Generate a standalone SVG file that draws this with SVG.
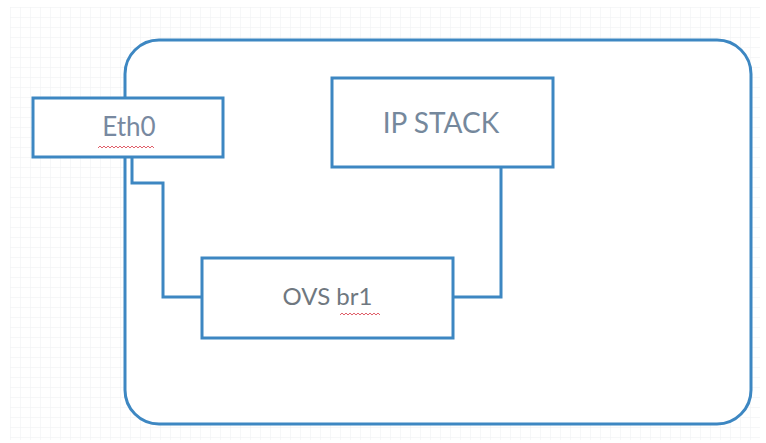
<svg xmlns="http://www.w3.org/2000/svg" width="766" height="443" viewBox="0 0 766 443">
  <defs>
    <pattern id="grid" width="10" height="10" patternUnits="userSpaceOnUse" x="10" y="7">
      <path d="M10 0 L0 0 0 10" fill="none" stroke="#eef0f2" stroke-width="1"/>
    </pattern>
    <style>
      .box { fill: #ffffff; stroke: #3d87c2; stroke-width: 3; }
      .conn { fill: none; stroke: #3d87c2; stroke-width: 3; }
      .lbl { font-family: Lato, "Liberation Sans", sans-serif; font-size: 24px; fill: #6f7880; text-anchor: middle; }
      .squig { fill: none; stroke: #e0606a; stroke-width: 1; }
    </style>
  </defs>
  <rect x="0" y="0" width="766" height="443" fill="#ffffff"/>
  <rect x="10" y="7" width="750" height="433" fill="url(#grid)"/>

  <g id="host">
    <rect class="box" x="125" y="40" width="626" height="384" rx="34" ry="34"/>
  </g>

  <g id="connectors">
    <path class="conn" d="M132 157 L132 183 L163 183 L163 297 L202 297"/>
    <path class="conn" d="M501 167 L501 297 L453 297"/>
  </g>

  <g id="eth0">
    <rect class="box" x="33" y="98" width="190" height="59"/>
    <text class="lbl" x="129" y="136" style="fill:#7889a0;font-size:26px">Eth0</text>
    <path class="squig" d="M98 148 l2 -2 l2 2 l2 -2 l2 2 l2 -2 l2 2 l2 -2 l2 2 l2 -2 l2 2 l2 -2 l2 2 l2 -2 l2 2 l2 -2 l2 2 l2 -2 l2 2 l2 -2 l2 2 l2 -2 l2 2 l2 -2 l2 2 l2 -2 l2 2 l2 -2 l2 2"/>
  </g>

  <g id="ipstack">
    <rect class="box" x="332" y="78" width="221" height="89"/>
    <text class="lbl" x="441" y="133" style="fill:#75889c;font-size:28px">IP STACK</text>
  </g>

  <g id="ovsbr1">
    <rect class="box" x="202" y="258" width="251" height="80"/>
    <text class="lbl" x="327.5" y="305">OVS br1</text>
    <path class="squig" d="M340 315 l2 -2 l2 2 l2 -2 l2 2 l2 -2 l2 2 l2 -2 l2 2 l2 -2 l2 2 l2 -2 l2 2 l2 -2 l2 2 l2 -2 l2 2 l2 -2 l2 2 l2 -2 l2 2"/>
  </g>
</svg>
